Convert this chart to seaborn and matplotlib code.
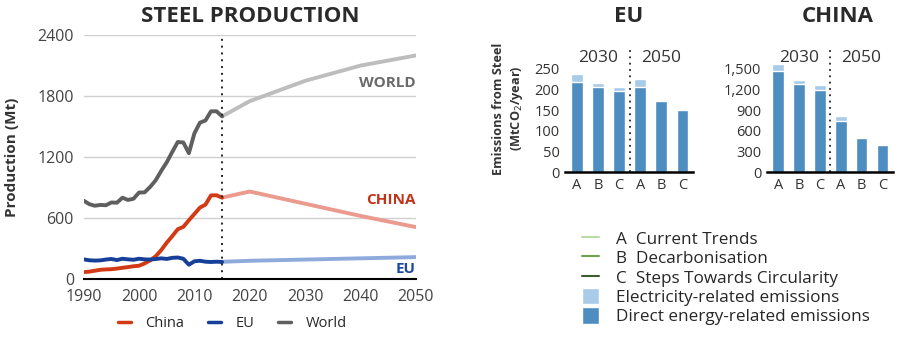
import numpy as np
import pandas as pd
import matplotlib
matplotlib.use("Agg")
import matplotlib.pyplot as plt
import seaborn as sns
from matplotlib.lines import Line2D
from matplotlib.patches import Patch

# ---------------- data ----------------
years_hist = list(range(1990, 2016))
world_hist = [770, 736, 720, 728, 725, 752, 750, 799, 777, 789, 850, 852, 905, 970,
              1063, 1148, 1250, 1348, 1343, 1238, 1433, 1538, 1560, 1650, 1650, 1600]
china_hist = [66, 71, 80, 89, 93, 95, 101, 109, 116, 124, 129, 152, 182, 222,
              283, 356, 421, 489, 512, 577, 639, 702, 731, 822, 823, 800]
eu_hist = [192, 183, 180, 182, 190, 196, 185, 198, 192, 188, 198, 192, 190, 195,
           202, 196, 207, 210, 198, 139, 173, 178, 169, 166, 169, 166]

years_proj = [2015, 2020, 2030, 2040, 2050]
world_proj = [1600, 1750, 1950, 2100, 2200]
china_proj = [800, 860, 740, 620, 510]
eu_proj = [168, 178, 190, 202, 214]

slots = ["A30", "B30", "C30", "A50", "B50", "C50"]
slot_labels = ["A", "B", "C", "A", "B", "C"]
eu_direct = [218, 205, 197, 205, 172, 150]
eu_total = [238, 217, 207, 226, 172, 150]
cn_direct = [1470, 1280, 1200, 740, 490, 400]
cn_total = [1570, 1340, 1270, 820, 490, 400]

# ---------------- style ----------------
sns.set_theme(style="white")
plt.rcParams["font.family"] = ["Open Sans", "DejaVu Sans"]

RED, RED_L = "#d23a16", "#eb9a8e"
BLUE, BLUE_L = "#153f98", "#8eaadc"
GRAY, GRAY_L = "#5f5f5f", "#bdbdbd"
DIRECT, ELEC = "#4d8dbf", "#a9cbea"
TXT = "#333333"

fig = plt.figure(figsize=(9, 3.38), dpi=100)

# ---------------- left: steel production ----------------
ax = fig.add_axes([0.093, 0.175, 0.369, 0.721])
hist = pd.DataFrame({"year": years_hist * 3,
                     "value": world_hist + china_hist + eu_hist,
                     "region": ["World"] * 26 + ["China"] * 26 + ["EU"] * 26})
proj = pd.DataFrame({"year": years_proj * 3,
                     "value": world_proj + china_proj + eu_proj,
                     "region": ["World"] * 5 + ["China"] * 5 + ["EU"] * 5})
sns.lineplot(data=proj, x="year", y="value", hue="region",
             palette={"World": GRAY_L, "China": RED_L, "EU": BLUE_L},
             linewidth=2.8, legend=False, ax=ax)
sns.lineplot(data=hist, x="year", y="value", hue="region",
             palette={"World": GRAY, "China": RED, "EU": BLUE},
             linewidth=2.8, legend=False, ax=ax)
ax.set_xlim(1990, 2050)
ax.set_ylim(0, 2400)
ax.set_yticks([0, 600, 1200, 1800, 2400])
ax.set_xticks([1990, 2000, 2010, 2020, 2030, 2040, 2050])
ax.yaxis.grid(True, color="#d0d0d0", linewidth=1)
ax.set_axisbelow(True)
for s in ["top", "right", "left"]:
    ax.spines[s].set_visible(False)
ax.spines["bottom"].set_color("black")
ax.spines["bottom"].set_linewidth(1.5)
ax.tick_params(axis="both", length=0, labelsize=11.5, labelcolor="#444444", pad=7)
ax.set_xlabel("")
ax.set_ylabel("Production (Mt)", fontsize=11, fontweight="bold", color=TXT, labelpad=13)
ax.axvline(2015, color="#222222", linestyle=(0, (1, 2.5)), linewidth=1.4)
ax.text(2050, 1928, "WORLD", color="#6a6a6a", fontsize=11, fontweight="bold", ha="right", va="center")
ax.text(2050, 777, "CHINA", color="#c0341a", fontsize=11, fontweight="bold", ha="right", va="center")
ax.text(2050, 98, "EU", color="#1d4aa0", fontsize=11, fontweight="bold", ha="right", va="center")
fig.text(0.278, 0.95, "STEEL PRODUCTION", fontsize=16, fontweight="bold", color="#2a2a2a",
         ha="center", va="center")
fig.legend(handles=[Line2D([], [], color=RED, lw=2.5), Line2D([], [], color=BLUE, lw=2.5),
                    Line2D([], [], color=GRAY, lw=2.5)],
           labels=["China", "EU", "World"], loc="center", bbox_to_anchor=(0.258, 0.044),
           ncol=3, frameon=False, fontsize=10.5, handlelength=0.9, columnspacing=1.6,
           handletextpad=1.0)

# ---------------- right: emissions bars ----------------
def bars(rect, direct, total, ymax, yticks, ylabels, title, title_x):
    a = fig.add_axes(rect)
    df = pd.DataFrame({"slot": slots, "direct": direct, "total": total})
    sns.barplot(data=df, x="slot", y="total", order=slots, color=ELEC, width=0.56,
                saturation=1, ax=a)
    sns.barplot(data=df, x="slot", y="direct", order=slots, color=DIRECT, width=0.56,
                saturation=1, ax=a)
    a.set_xlim(-0.55, 5.5)
    a.set_ylim(0, ymax)
    a.set_yticks(yticks)
    a.set_yticklabels(ylabels)
    a.set_xticks(range(6))
    a.set_xticklabels(slot_labels)
    a.set_xlabel("")
    a.set_ylabel("")
    for s in ["top", "right", "left"]:
        a.spines[s].set_visible(False)
    a.spines["bottom"].set_color("black")
    a.spines["bottom"].set_linewidth(1.8)
    a.tick_params(axis="both", length=0, labelsize=10.5, labelcolor="#333333", pad=4)
    a.axvline(2.5, ymax=0.96, color="#222222", linestyle=(0, (1, 2.5)), linewidth=1.3)
    yy = ymax * 0.9
    a.text(1.0, yy, "2030", ha="center", va="center", fontsize=12.5, color="#333333")
    a.text(4.0, yy, "2050", ha="center", va="center", fontsize=12.5, color="#333333")
    fig.text(title_x, 0.95, title, fontsize=16, fontweight="bold", color="#2a2a2a",
             ha="center", va="center")
    return a

ax_eu = bars([0.628, 0.491, 0.142, 0.376], eu_direct, eu_total, 308,
             [0, 50, 100, 150, 200, 250], ["0", "50", "100", "150", "200", "250"],
             "EU", 0.698)
ax_eu.set_ylabel("Emissions from Steel\n(MtCO$_2$/year)", fontsize=9.2, fontweight="bold",
                 color=TXT, labelpad=7, linespacing=1.3)
bars([0.852, 0.491, 0.140, 0.376], cn_direct, cn_total, 1848,
     [0, 300, 600, 900, 1200, 1500], ["0", "300", "600", "900", "1,200", "1,500"],
     "CHINA", 0.931)

handles = [Line2D([], [], color="#b9dca6", lw=1.5), Line2D([], [], color="#6fa152", lw=1.5),
           Line2D([], [], color="#3b5e2f", lw=1.5),
           Patch(facecolor=ELEC), Patch(facecolor=DIRECT)]
labels = ["A  Current Trends", "B  Decarbonisation", "C  Steps Towards Circularity",
          "Electricity-related emissions", "Direct energy-related emissions"]
fig.legend(handles=handles, labels=labels, loc="upper left", bbox_to_anchor=(0.647, 0.32),
           frameon=False, fontsize=12.3, handlelength=1.0, handleheight=1.1,
           handletextpad=0.95, labelspacing=0.08, borderaxespad=0, borderpad=0)

fig.savefig("out.png", dpi=100, facecolor="white")
